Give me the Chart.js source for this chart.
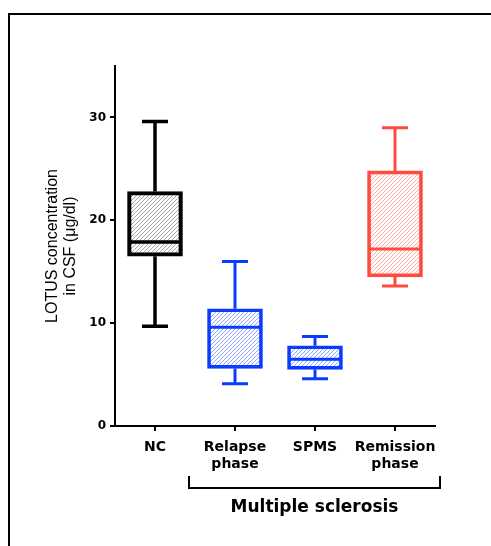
<!DOCTYPE html>
<html>
<head>
<meta charset="utf-8">
<script src="https://cdn.jsdelivr.net/npm/chart.js@4.4.0/dist/chart.umd.min.js"></script>
<style>
    html, body { margin: 0; padding: 0; background: #fff; }
    #wrap { position: relative; width: 491px; height: 546px; overflow: hidden; }
    #frame { position: absolute; left: 8px; top: 13px; width: 600px; height: 600px;
             border-top: 2px solid #000; border-left: 2px solid #000; }
    canvas { position: absolute; left: 0; top: 0; }
</style>
</head>
<body>
<div id="wrap">
    <div id="frame"></div>
    <canvas id="boxChart" width="491" height="546"></canvas>
</div>
<script>
// data
const categories = ['NC', ['Relapse', 'phase'], 'SPMS', ['Remission', 'phase']];
const whiskerMin = [9.7, 4.1, 4.6, 13.6];
const q1 = [16.5, 5.6, 5.5, 14.5];
const median = [17.9, 9.6, 6.5, 17.2];
const q3 = [22.8, 11.4, 7.8, 24.8];
const whiskerMax = [29.6, 16.0, 8.7, 29.0];
const yTicks = [0, 10, 20, 30];

const boxColors = ['#000000', '#0a3cff', '#0a3cff', '#ff4a3f'];
const hatchColors = ['rgba(0,0,0,0.35)', 'rgba(10,60,255,0.45)', 'rgba(10,60,255,0.45)', 'rgba(255,74,63,0.45)'];

// diagonal hatch fill
function makeHatch(color) {
    const c = document.createElement('canvas');
    c.width = 4;
    c.height = 4;
    const g = c.getContext('2d');
    g.strokeStyle = color;
    g.lineWidth = 1;
    g.beginPath();
    g.moveTo(0, 4); g.lineTo(4, 0);
    g.moveTo(-1, 1); g.lineTo(1, -1);
    g.moveTo(3, 5); g.lineTo(5, 3);
    g.stroke();
    return g.createPattern(c, 'repeat');
}

// whiskers, medians and the "Multiple sclerosis" bracket
const boxPlot = {
    id: 'boxPlot',
    afterDatasetsDraw(chart) {
        const ctx = chart.ctx;
        const x = chart.scales.x;
        const y = chart.scales.y;
        const meta = chart.getDatasetMeta(0);
        ctx.save();
        ctx.lineCap = 'butt';
        categories.forEach((c, i) => {
            const cx = x.getPixelForValue(i);
            const half = meta.data[i].width / 2;
            const yMax = y.getPixelForValue(whiskerMax[i]);
            const yMin = y.getPixelForValue(whiskerMin[i]);
            ctx.strokeStyle = boxColors[i];
            ctx.lineWidth = i === 0 ? 3.5 : 3;
            ctx.beginPath();
            ctx.moveTo(cx, y.getPixelForValue(q3[i]));
            ctx.lineTo(cx, yMax);
            ctx.moveTo(cx, y.getPixelForValue(q1[i]));
            ctx.lineTo(cx, yMin);
            ctx.moveTo(cx - 13, yMax);
            ctx.lineTo(cx + 13, yMax);
            ctx.moveTo(cx - 13, yMin);
            ctx.lineTo(cx + 13, yMin);
            const ym = y.getPixelForValue(median[i]);
            ctx.moveTo(cx - half + 1, ym);
            ctx.lineTo(cx + half - 1, ym);
            ctx.stroke();
        });

        const left = x.getPixelForValue(1) - 46;
        const right = x.getPixelForValue(3) + 45;
        ctx.strokeStyle = '#000';
        ctx.lineWidth = 2;
        ctx.beginPath();
        ctx.moveTo(left, 476);
        ctx.lineTo(left, 488);
        ctx.lineTo(right, 488);
        ctx.lineTo(right, 476);
        ctx.stroke();

        ctx.fillStyle = '#000';
        ctx.font = 'bold 17px "DejaVu Sans"';
        ctx.textAlign = 'center';
        ctx.textBaseline = 'alphabetic';
        ctx.fillText('Multiple sclerosis', (left + right) / 2, 512);
        ctx.restore();
    }
};

const ctx = document.getElementById('boxChart');
new Chart(ctx, {
    type: 'bar',
    data: {
        labels: categories,
        datasets: [{
            data: q1.map((v, i) => [v, q3[i]]),
            backgroundColor: hatchColors.map(makeHatch),
            borderColor: boxColors,
            borderWidth: [3.5, 3, 3, 3],
            borderSkipped: false,
            barThickness: 55
        }]
    },
    options: {
        responsive: false,
        animation: false,
        layout: {
            padding: { left: 0, top: 66, right: 56, bottom: 60 }
        },
        plugins: {
            legend: { display: false },
            tooltip: { enabled: false }
        },
        scales: {
            x: {
                offset: true,
                afterFit(scale) { scale.height = 60; },
                border: { display: true, color: '#000', width: 2 },
                grid: {
                    display: true,
                    drawOnChartArea: false,
                    drawTicks: true,
                    tickLength: 5,
                    color: '#000',
                    lineWidth: 2,
                    offset: false
                },
                ticks: {
                    color: '#000',
                    padding: 8,
                    maxRotation: 0,
                    autoSkip: false,
                    font: { family: 'DejaVu Sans', size: 14, weight: 'bold', lineHeight: 1.2 }
                }
            },
            y: {
                min: 0,
                max: 35,
                afterFit(scale) { scale.width = 115; },
                afterBuildTicks(scale) { scale.ticks = yTicks.map(v => ({ value: v })); },
                border: { display: true, color: '#000', width: 2 },
                grid: {
                    display: true,
                    drawOnChartArea: false,
                    drawTicks: true,
                    tickLength: 5,
                    color: '#000',
                    lineWidth: 2
                },
                ticks: {
                    color: '#000',
                    padding: 4,
                    font: { family: 'DejaVu Sans', size: 12, weight: 'bold' }
                },
                title: {
                    display: true,
                    text: ['LOTUS concentration', 'in CSF (\u03bcg/dl)'],
                    color: '#000',
                    padding: { top: 43, bottom: 0 },
                    font: { family: 'Liberation Sans', size: 16, lineHeight: 1.15 }
                }
            }
        }
    },
    plugins: [boxPlot]
});
</script>
</body>
</html>
